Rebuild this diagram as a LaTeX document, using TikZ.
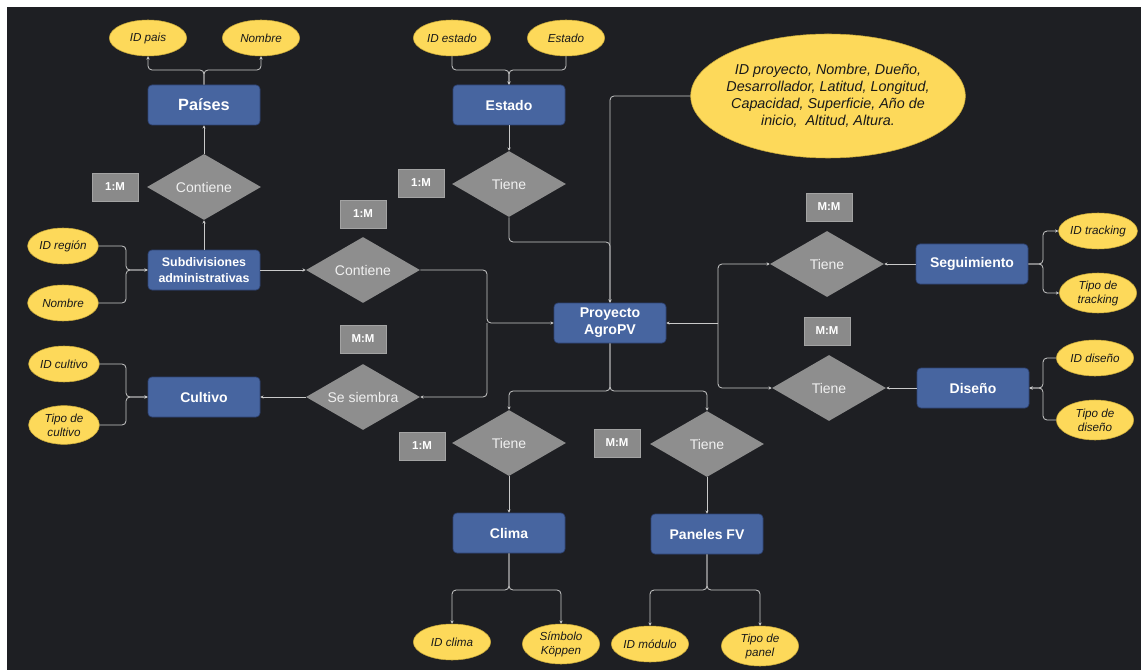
\documentclass[tikz,border=0pt]{standalone}
\usepackage{fontspec}
\setmainfont{Liberation Sans}
\usetikzlibrary{shapes.geometric,arrows.meta}
\definecolor{bg}{HTML}{1E1F23}
\definecolor{entblue}{HTML}{4765A0}
\definecolor{entborder}{HTML}{2E4374}
\definecolor{relgray}{HTML}{8E8E8E}
\definecolor{cardgray}{HTML}{8A8A8A}
\definecolor{cardborder}{HTML}{A3A3A3}
\definecolor{attyellow}{HTML}{FDD95A}
\definecolor{attborder}{HTML}{C9A93A}
\definecolor{lineg}{HTML}{C9C9C9}
\tikzset{
  ent/.style={rectangle, rounded corners=3pt, fill=entblue, draw=entborder, line width=0.5pt,
    minimum width=84pt, minimum height=30pt, inner sep=1pt, text=white, align=center,
    font=\fontsize{10.5}{12.5}\selectfont\bfseries},
  rel/.style={diamond, fill=relgray, draw=none, minimum width=85.5pt, minimum height=49.5pt,
    inner sep=0pt, aspect=1.7, text=white!94!black, font=\fontsize{10.5}{12.5}\selectfont},
  card/.style={rectangle, fill=cardgray, draw=cardborder, line width=0.4pt, minimum width=34.5pt,
    minimum height=21pt, inner sep=0pt, text=white, font=\fontsize{8.6}{10}\selectfont\bfseries},
  att/.style={ellipse, fill=attyellow, draw=attborder, line width=0.4pt, minimum width=58pt,
    minimum height=27pt, inner sep=0pt, align=center, text=black!90,
    font=\fontsize{8.75}{10.5}\selectfont\itshape},
  con/.style={draw=lineg, line width=0.6pt, rounded corners=3pt,
    -{Stealth[length=2.4pt,width=2.4pt]}},
}
\begin{document}
\begin{tikzpicture}[x=0.75pt,y=-0.75pt]
\useasboundingbox (0,0) rectangle (1141,670);
\fill[white] (0,0) rectangle (1141,670);
\fill[bg] (7,7) rectangle (1141,670);

% entities
\node[ent, font=\fontsize{12.2}{14}\selectfont\bfseries] (paises) at (204,105) {Países};
\node[ent, font=\fontsize{9.3}{11.5}\selectfont\bfseries] (subdiv) at (204,270) {Subdivisiones\\administrativas};
\node[ent] (cultivo) at (204,397) {Cultivo};
\node[ent] (estado) at (509,105) {Estado};
\node[ent, font=\fontsize{10.6}{12.6}\selectfont\bfseries] (proy) at (610,323) {Proyecto\\AgroPV};
\node[ent] (seg) at (972,264) {Seguimiento};
\node[ent] (diseno) at (973,388) {Diseño};
\node[ent] (clima) at (509,533) {Clima};
\node[ent] (paneles) at (707,534) {Paneles FV};

% relationships
\node[rel] (cont1) at (204,187) {Contiene};
\node[rel] (cont2) at (363,270) {Contiene};
\node[rel] (siembra) at (363,397) {Se siembra};
\node[rel] (tiene1) at (509,184) {Tiene};
\node[rel] (tiene5) at (827,264) {Tiene};
\node[rel] (tiene6) at (829,388) {Tiene};
\node[rel] (tiene3) at (509,443) {Tiene};
\node[rel] (tiene4) at (707,444) {Tiene};

% cardinalities
\node[card] (c1) at (115,187) {1:M};
\node[card] (c2) at (363,214) {1:M};
\node[card] (c3) at (363,339) {M:M};
\node[card] (c4) at (421,183) {1:M};
\node[card] (c5) at (829,207) {M:M};
\node[card] (c6) at (827,331) {M:M};
\node[card] (c7) at (422,446) {1:M};
\node[card] (c8) at (617,443) {M:M};

% attributes
\node[att] (idpais) at (148,38) {ID pais};
\node[att] (nompais) at (261,38) {Nombre};
\node[att, minimum width=53pt, inner xsep=-3pt] (idreg) at (63,246) {ID región};
\node[att, minimum width=53pt] (nomsub) at (63,303) {Nombre};
\node[att, minimum width=53pt, inner xsep=-3pt] (idcult) at (64,364) {ID cultivo};
\node[att, minimum width=53pt, minimum height=29pt, inner xsep=-2pt] (tipocult) at (64,425) {Tipo de\\cultivo};
\node[att] (idest) at (452,38) {ID estado};
\node[att] (nomest) at (566,38) {Estado};
\node[att, minimum width=206pt, minimum height=93pt, inner xsep=-4pt, font=\fontsize{10.75}{12.75}\selectfont\itshape]
  (proj) at (828,96) {ID proyecto, Nombre, Dueño,\\Desarrollador, Latitud, Longitud,\\Capacidad, Superficie, Año de\\inicio,\ \ Altitud, Altura.};
\node[att] (idtrack) at (1098,231) {ID tracking};
\node[att, minimum height=30pt] (tipotrack) at (1098,293) {Tipo de\\tracking};
\node[att] (iddis) at (1095,358) {ID diseño};
\node[att, minimum height=30pt] (tipodis) at (1095,420) {Tipo de\\diseño};
\node[att] (idclima) at (452,642) {ID clima};
\node[att, minimum height=30pt] (koppen) at (561,644) {Símbolo\\Köppen};
\node[att] (idmod) at (650,644) {ID módulo};
\node[att, minimum height=30pt] (tipopanel) at (760,646) {Tipo de\\panel};

% junctions
\coordinate (jpais) at (204,70);
\coordinate (jest) at (509,70);
\coordinate (jsub) at (126,270);
\coordinate (jcult) at (126,397);
\coordinate (jleft) at (487,323);
\coordinate (jright) at (718,323);
\coordinate (jtop) at (610,242);
\coordinate (jbot) at (610,391);
\coordinate (jcl) at (509,590);
\coordinate (jpan) at (707,590);
\coordinate (jseg) at (1043,264);
\coordinate (jdis) at (1043,388);

% connectors
\draw[con] (paises.north) -- (jpais) -| (idpais.south);
\draw[con] (paises.north) -- (jpais) -| (nompais.south);
\draw[con] (cont1.north) -- (paises.south);
\draw[con] (subdiv.north) -- (cont1.south);
\draw[con] (idreg.east) -| (jsub) -- (subdiv.west);
\draw[con] (nomsub.east) -| (jsub) -- (subdiv.west);
\draw[con] (idcult.east) -| (jcult) -- (cultivo.west);
\draw[con] (tipocult.east) -| (jcult) -- (cultivo.west);
\draw[con] (subdiv.east) -- (cont2.west);
\draw[con] (cont2.east) -| (jleft) -- (proy.west);
\draw[con] (jleft) |- (siembra.east);
\draw[con] (siembra.west) -- (cultivo.east);
\draw[con] (idest.south) |- (jest) -- (estado.north);
\draw[con] (nomest.south) |- (jest) -- (estado.north);
\draw[con] (estado.south) -- (tiene1.north);
\draw[con] (tiene1.south) |- (jtop) -- (proy.north);
\draw[con] (proj.west) -| (proy.north);
\draw[con] (proy.south) -- (jbot) -| (tiene3.north);
\draw[con] (proy.south) -- (jbot) -| (tiene4.north);
\draw[con] (tiene3.south) -- (clima.north);
\draw[con] (tiene4.south) -- (paneles.north);
\draw[con] (clima.south) -- (jcl) -| (idclima.north);
\draw[con] (clima.south) -- (jcl) -| (koppen.north);
\draw[con] (paneles.south) -- (jpan) -| (idmod.north);
\draw[con] (paneles.south) -- (jpan) -| (tipopanel.north);
\draw[con] (jright) -- (proy.east);
\draw[con] (jright) |- (tiene5.west);
\draw[con] (jright) |- (tiene6.west);
\draw[con] (seg.west) -- (tiene5.east);
\draw[con] (diseno.west) -- (tiene6.east);
\draw[con] (seg.east) -- (jseg) |- (idtrack.west);
\draw[con] (seg.east) -- (jseg) |- (tipotrack.west);
\draw[con] (iddis.west) -| (jdis) -- (diseno.east);
\draw[con] (tipodis.west) -| (jdis) -- (diseno.east);
\end{tikzpicture}
\end{document}
